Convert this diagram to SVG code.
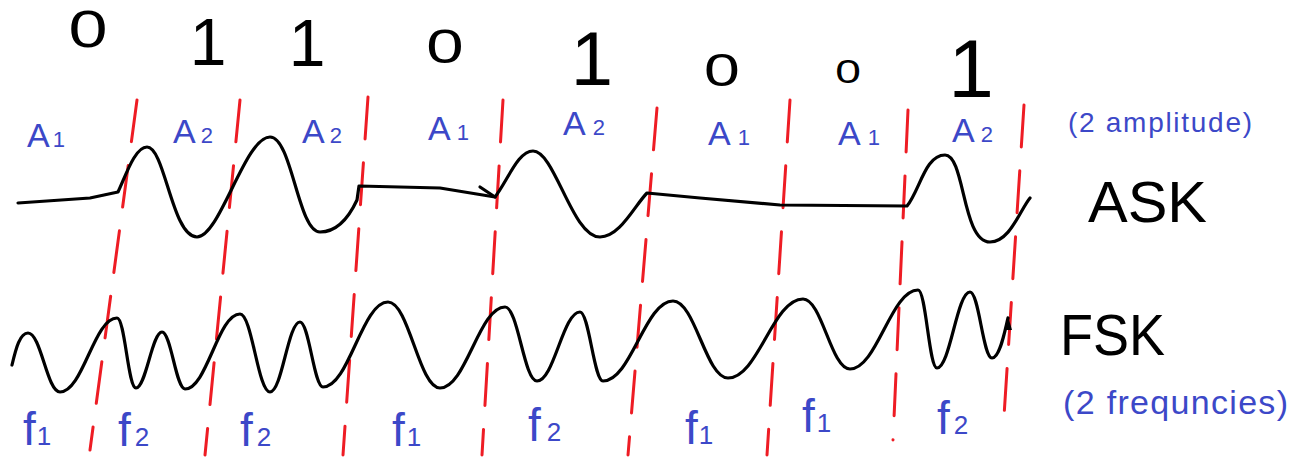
<svg xmlns="http://www.w3.org/2000/svg" width="1305" height="458" viewBox="0 0 1305 458">
<style>
.wave{fill:none;stroke:#000;stroke-width:3.2;stroke-linecap:round;stroke-linejoin:round}
.div{stroke:#ee1c24;stroke-width:3;stroke-dasharray:42 24;stroke-linecap:round}
.bit{font-family:"Liberation Sans",Arial,sans-serif;fill:#000;text-anchor:middle}
.blue{font-family:"Liberation Sans",Arial,sans-serif;fill:#3c48c8}
.big{font-family:"Liberation Sans",Arial,sans-serif;fill:#000;font-size:58px}
</style>
<rect width="1305" height="458" fill="#fff"/>

<g id="dividers">
<line class="div" x1="137" y1="100" x2="90" y2="450"/>
<line class="div" x1="240" y1="100" x2="205" y2="455"/>
<line class="div" x1="368" y1="97" x2="343" y2="455"/>
<line class="div" x1="503" y1="100" x2="482" y2="455"/>
<line class="div" x1="657" y1="108" x2="628" y2="455"/>
<line class="div" x1="790" y1="100" x2="767" y2="455"/>
<line class="div" x1="908" y1="110" x2="893" y2="440"/>
<line class="div" x1="1024" y1="105" x2="1003" y2="432"/>
</g>

<g id="bits">
<text class="bit" font-size="52" transform="translate(88,47) scale(1.35,1)">0</text>
<text class="bit" font-size="66" x="208" y="65">1</text>
<text class="bit" font-size="66" x="307" y="66">1</text>
<text class="bit" font-size="48" transform="translate(445,63) scale(1.4,1)">0</text>
<text class="bit" font-size="76" x="592" y="85">1</text>
<text class="bit" font-size="46" transform="translate(722,86) scale(1.4,1)">0</text>
<text class="bit" font-size="33" transform="translate(848,83) scale(1.4,1)">0</text>
<text class="bit" font-size="82" x="971" y="97">1</text>
</g>

<g id="ask-labels" class="blue" font-size="34">
<text x="27" y="147">A<tspan font-size="22" dx="3">1</tspan></text>
<text x="173" y="143">A<tspan font-size="22" dx="5">2</tspan></text>
<text x="302" y="143">A<tspan font-size="22" dx="5">2</tspan></text>
<text x="428" y="140">A<tspan font-size="22" dx="6">1</tspan></text>
<text x="563" y="135">A<tspan font-size="22" dx="7">2</tspan></text>
<text x="708" y="145">A<tspan font-size="22" dx="7">1</tspan></text>
<text x="838" y="145">A<tspan font-size="22" dx="7">1</tspan></text>
<text x="952" y="142">A<tspan font-size="22" dx="6">2</tspan></text>
</g>

<g id="ask-wave">
<path class="wave" d="M18 203 L90 198 L118 192 C126 175 135 147 147 147 C165 147 172 237 197 237 C220 237 245 137 270 137 C292 137 298 232 320 232 C338 232 350 215 357 200 L359 186 L440 188 L495 197 C508 180 518 151 533 151 C555 151 572 237 600 237 C620 237 635 205 647 193 L700 198 L780 205 L907 206 C920 190 925 155 945 155 C965 155 962 242 990 242 C1010 242 1020 210 1030 198"/>
<path class="wave" d="M480 187 L495 197"/>
</g>

<g id="fsk-wave">
<path class="wave" d="M12 365 C16 348 20 333 28 333 C41 333 47 392 60 392 C83 392 94 318 117 318 C125 318 128 388 136 388 C146 388 152 332 162 332 C171 332 176 389 185 389 C207 389 218 314 240 314 C252 314 258 392 270 392 C282 392 288 322 300 322 C309 322 314 387 323 387 C349 387 362 302 388 302 C409 302 419 388 440 388 C466 388 479 307 505 307 C518 307 524 381 537 381 C554 381 563 312 580 312 C589 312 594 381 603 381 C631 381 645 301 673 301 C695 301 706 378 728 378 C758 378 773 299 803 299 C822 299 831 369 850 369 C877 369 891 290 918 290 C926 290 929 368 937 368 C950 368 957 292 970 292 C979 292 983 358 992 358 C1000 358 1005 330 1008 318"/>
<path d="M1005 330 L1008 316 L1012 330 Z" fill="#000"/>
</g>

<g id="fsk-labels" class="blue" font-size="46">
<text x="23" y="445">f<tspan font-size="26" dx="1">1</tspan></text>
<text x="118" y="446">f<tspan font-size="26" dx="4">2</tspan></text>
<text x="240" y="446">f<tspan font-size="26" dx="4">2</tspan></text>
<text x="392" y="446">f<tspan font-size="26" dx="2">1</tspan></text>
<text x="528" y="441">f<tspan font-size="26" dx="6">2</tspan></text>
<text x="685" y="444">f<tspan font-size="26" dx="1">1</tspan></text>
<text x="802" y="432">f<tspan font-size="26" dx="2">1</tspan></text>
<text x="937" y="434">f<tspan font-size="26" dx="4">2</tspan></text>
</g>

<g id="titles">
<text class="big" x="1088" y="222" textLength="119" lengthAdjust="spacingAndGlyphs">ASK</text>
<text class="blue" font-size="28" x="1068" y="132" textLength="184" lengthAdjust="spacing">(2 amplitude)</text>
<text class="big" x="1060" y="355" textLength="105" lengthAdjust="spacingAndGlyphs">FSK</text>
<text class="blue" font-size="34" x="1063" y="414" textLength="225" lengthAdjust="spacing">(2 frequncies)</text>
</g>
</svg>
